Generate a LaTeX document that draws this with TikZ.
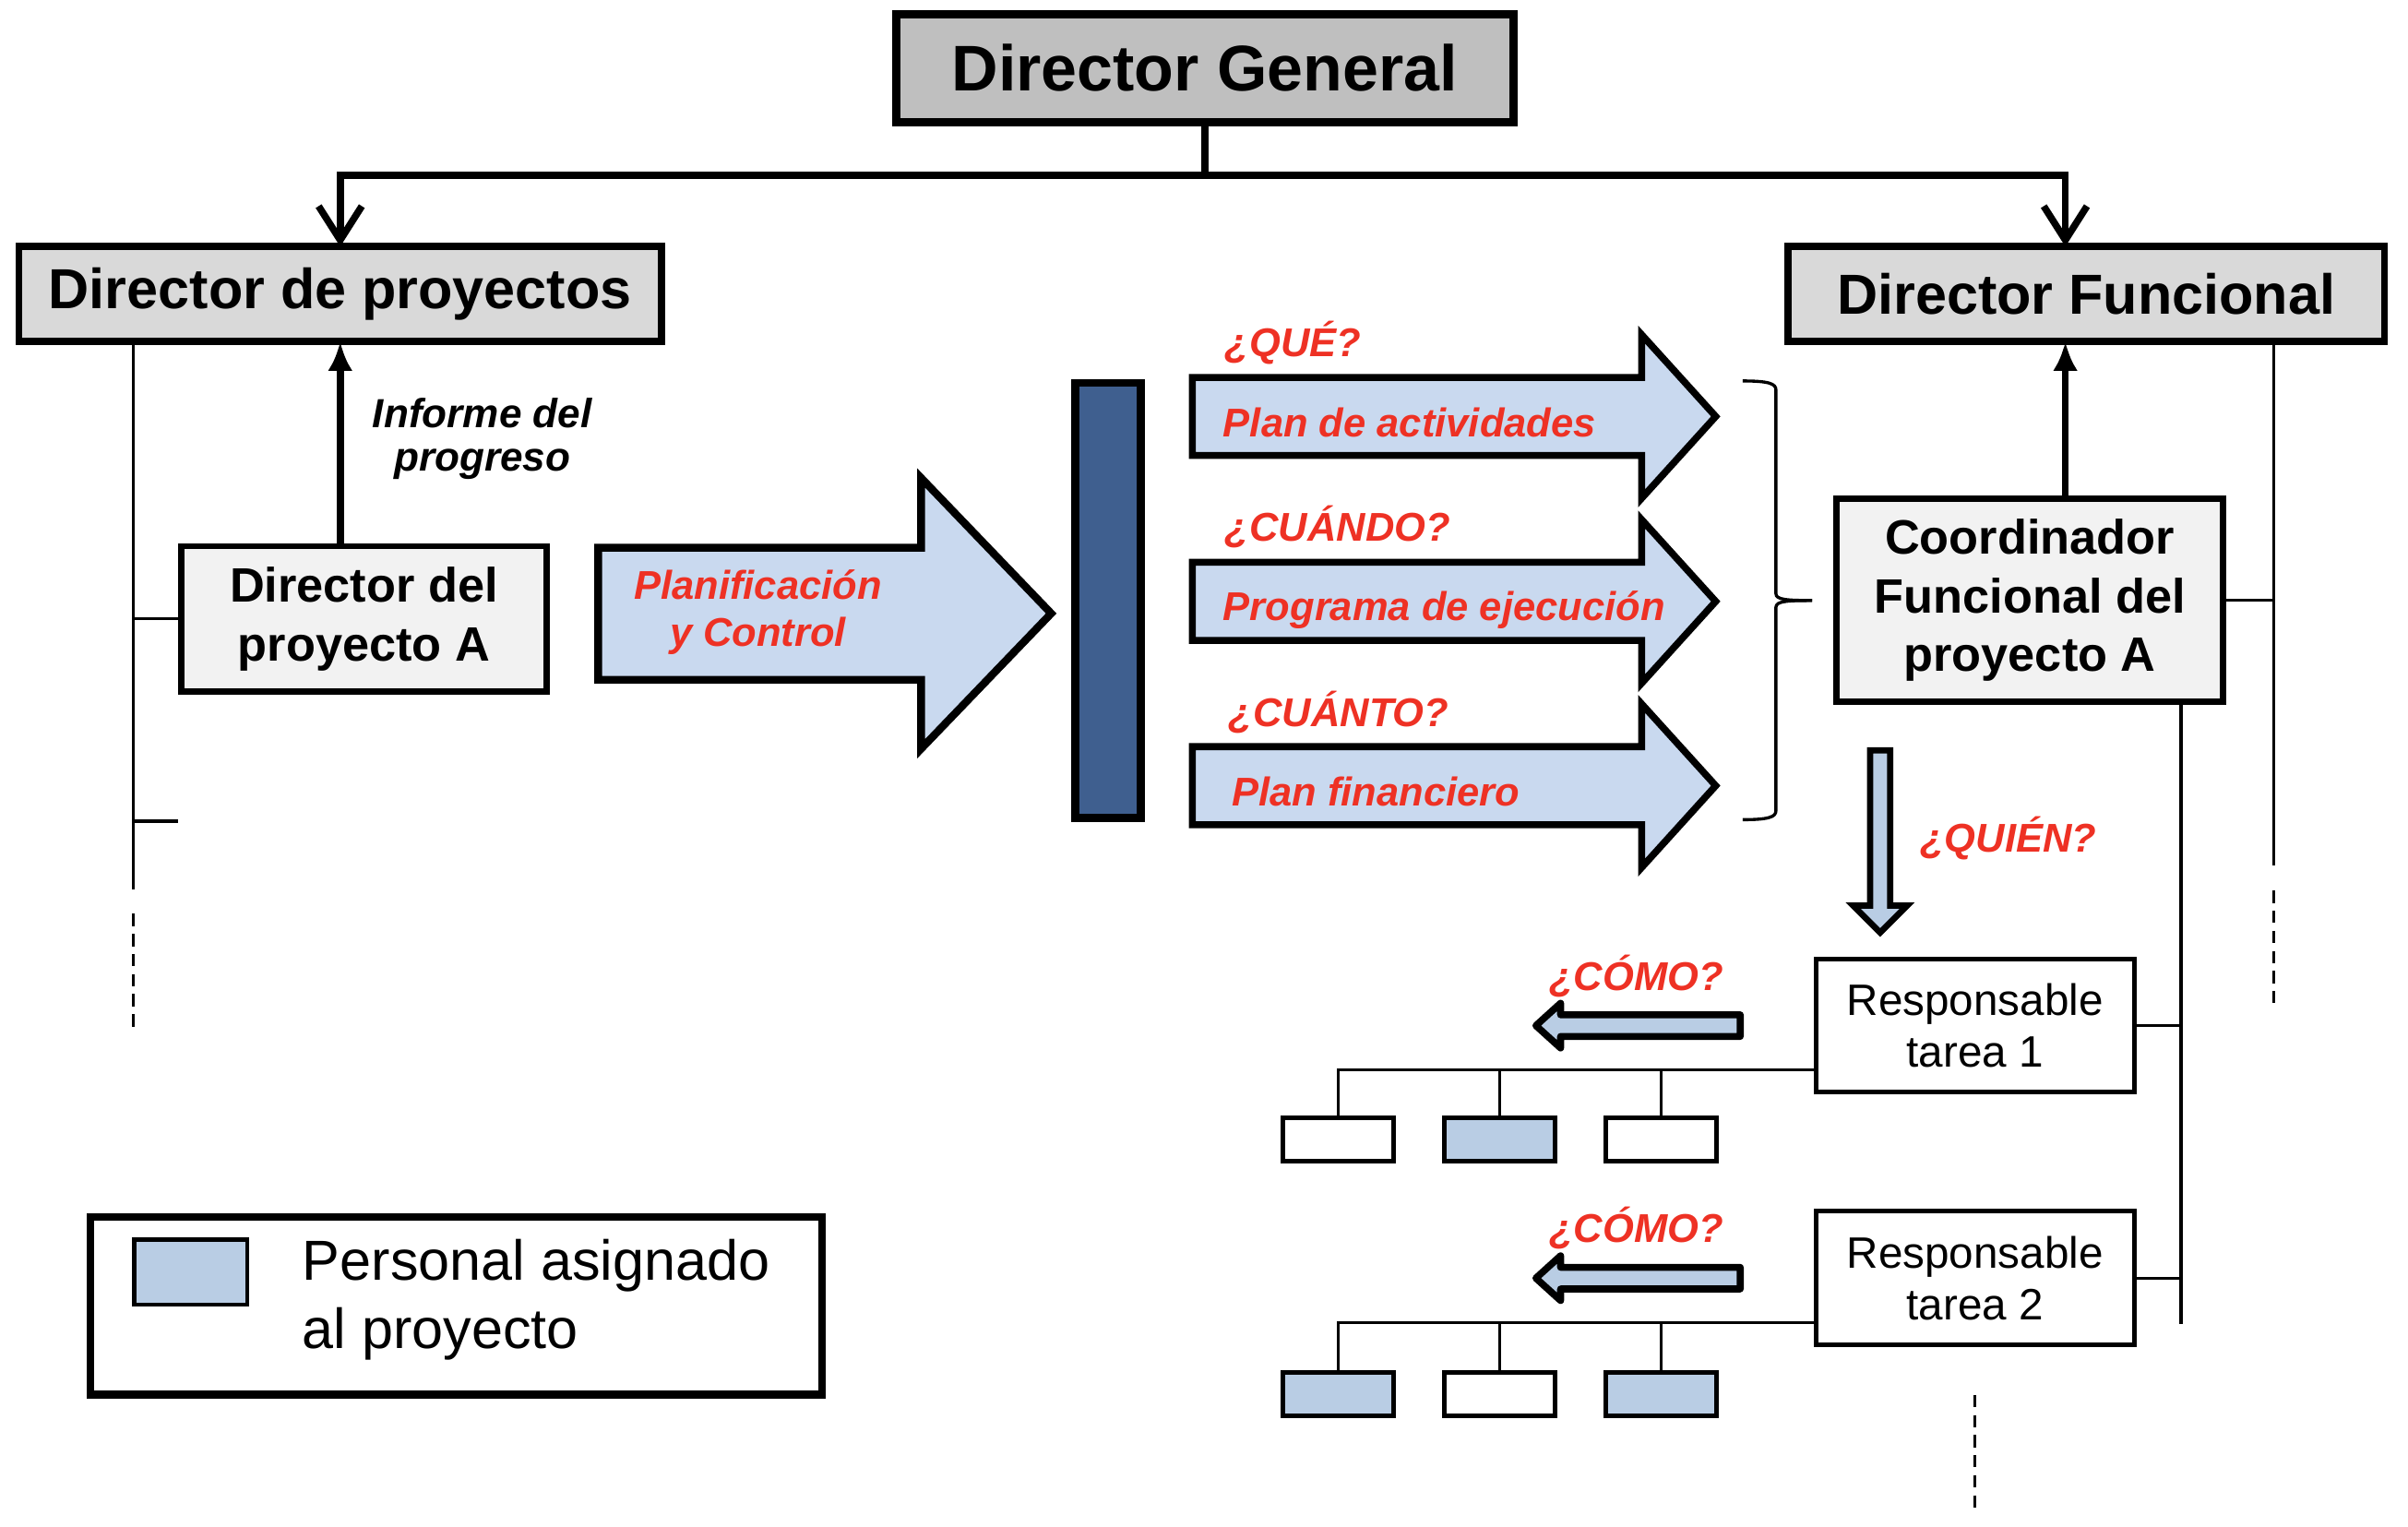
\documentclass[tikz,border=0pt]{standalone}
\usepackage{fontspec}
\setmainfont{Liberation Sans}
\usetikzlibrary{arrows.meta}

\definecolor{cbfbfbf}{RGB}{191,191,191}
\definecolor{cd9d9d9}{RGB}{217,217,217}
\definecolor{cf2f2f2}{RGB}{242,242,242}
\definecolor{cc9d9ef}{RGB}{201,217,239}
\definecolor{cb9cde4}{RGB}{185,205,228}
\definecolor{c3f5f8f}{RGB}{63,95,143}
\definecolor{cee3124}{RGB}{238,49,36}
\def \globalscale {1.000000}

\begin{document}
\begin{tikzpicture}[y=1mm, x=1mm, yscale=\globalscale,xscale=\globalscale, every node/.append style={scale=\globalscale}, inner sep=0pt, outer sep=0pt,
  headbox/.style={draw=black, line width=0.45mm, align=center, font=\bfseries\fontsize{10.4}{12.5}\selectfont},
  rolebox/.style={draw=black, fill=cf2f2f2, line width=0.4mm, align=center, font=\bfseries\fontsize{8.9}{10.8}\selectfont},
  taskbox/.style={draw=black, fill=white, line width=0.3mm, minimum width=20.6mm, minimum height=8.65mm, align=center, font=\fontsize{8.1}{9.6}\selectfont},
  staffbox/.style={draw=black, fill=white, line width=0.3mm, minimum width=7.2mm, minimum height=2.8mm},
  redlabel/.style={text=cee3124, font=\bfseries\itshape\fontsize{7.4}{8.6}\selectfont},
  conn/.style={draw=black, line width=0.45mm},
  thinline/.style={draw=black, line width=0.2mm},
  dashline/.style={draw=black, line width=0.2mm, dash pattern=on 0.8mm off 0.5mm}]
  \path[fill=white] (0.0, 0.0) rectangle (156.0, 98.86);
  \useasboundingbox (0.0, 0.0) rectangle (156.0, 98.86);

  % cabeceras
  \node[headbox, fill=cbfbfbf, line width=0.55mm, minimum width=40.0mm, minimum height=7.0mm, font=\bfseries\fontsize{11.9}{14}\selectfont] (dirgeneral) at (78.05, 94.45) {Director General};
  \node[headbox, fill=cd9d9d9, minimum width=41.65mm, minimum height=6.15mm] (dirproyectos) at (22.04, 79.81) {Director de proyectos};
  \node[headbox, fill=cd9d9d9, minimum width=38.65mm, minimum height=6.15mm] (dirfuncional) at (135.15, 79.81) {Director Funcional};

  \node[rolebox, minimum width=23.65mm, minimum height=9.4mm] (dirproyA) at (23.58, 58.77) {Director del\\proyecto A};
  \node[rolebox, minimum width=25.05mm, minimum height=13.15mm] (coordinador) at (131.5, 59.96) {Coordinador\\Funcional del\\proyecto A};

  \node[taskbox] (tarea1) at (127.95, 32.42) {Responsable\\tarea 1};
  \node[taskbox] (tarea2) at (127.95, 16.06) {Responsable\\tarea 2};

  \node[staffbox] (staff1a) at (86.7, 25.02) {};
  \node[staffbox, fill=cb9cde4] (staff1b) at (97.15, 25.02) {};
  \node[staffbox] (staff1c) at (107.6, 25.02) {};
  \node[staffbox, fill=cb9cde4] (staff2a) at (86.7, 8.57) {};
  \node[staffbox] (staff2b) at (97.15, 8.57) {};
  \node[staffbox, fill=cb9cde4] (staff2c) at (107.6, 8.57) {};

  % conexiones
  \draw[conn, -{Straight Barb[length=2.2mm,width=2.8mm]}] (dirgeneral.south) -- ++(0,-3.44) -| (dirproyectos.north);
  \draw[conn, -{Straight Barb[length=2.2mm,width=2.8mm]}] (dirgeneral.south) -- ++(0,-3.44) -| ([xshift=-1.35mm]dirfuncional.north);
  \draw[conn, -{Latex[length=1.9mm,width=1.6mm]}] (dirproyA.north -| dirproyectos.south) -- (dirproyectos.south);
  \draw[conn, -{Latex[length=1.9mm,width=1.6mm]}] ([xshift=2.3mm]coordinador.north) -- ([xshift=2.3mm]coordinador.north |- dirfuncional.south);

  \node[font=\bfseries\itshape\fontsize{7.5}{8}\selectfont, align=center] (informe) at (31.25, 70.41) {Informe del\\progreso};

  % lineas de la izquierda
  \coordinate (leftend) at (8.62, 41.26);
  \coordinate (lefttick) at (11.56, 45.66);
  \draw[thinline] (leftend |- dirproyectos.south) -- (leftend);
  \draw[thinline] (leftend |- dirproyA.west) -- (dirproyA.west);
  \draw[thinline] (leftend |- lefttick) -- (lefttick);
  \draw[dashline] (8.62, 39.66) -- (8.62, 32.36);

  % lineas de la derecha
  \coordinate (farright) at (147.3, 42.8);
  \coordinate (rline) at (141.3, 13.09);
  \draw[thinline] (farright |- dirfuncional.south) -- (farright);
  \draw[thinline] (coordinador.east) -- (coordinador.east -| farright);
  \draw[dashline] (147.3, 41.16) -- (147.3, 33.9);
  \draw[thinline] (rline |- coordinador.south) -- (rline);
  \draw[thinline] (tarea1.east) -- (tarea1.east -| rline);
  \draw[thinline] (tarea2.east) -- (tarea2.east -| rline);
  \draw[dashline] (127.95, 8.5) -- (127.95, 1.08);

  % arboles de tareas
  \draw[thinline] ([yshift=1.45mm]tarea1.south west) -| (staff1a.north);
  \draw[thinline] ([yshift=1.45mm]tarea1.south west) -| (staff1b.north);
  \draw[thinline] ([yshift=1.45mm]tarea1.south west) -| (staff1c.north);
  \draw[thinline] ([yshift=1.45mm]tarea2.south west) -| (staff2a.north);
  \draw[thinline] ([yshift=1.45mm]tarea2.south west) -| (staff2b.north);
  \draw[thinline] ([yshift=1.45mm]tarea2.south west) -| (staff2c.north);

  % flecha grande
  \path[draw=black,fill=cc9d9ef,line join=miter,line width=0.5mm,miter limit=10.0] (38.75, 63.38) -- (59.67, 63.38) -- (59.67, 67.9) -- (68.1, 59.12) -- (59.67, 50.35) -- (59.67, 54.82) -- (38.75, 54.82) -- cycle;
  \node[redlabel, align=center] (planificacion) at (49.1, 59.2) {Planificación\\y Control};

  % barra
  \path[draw=black,fill=c3f5f8f,line width=0.5mm] (69.65, 74.06) rectangle (73.91, 45.87);

  % tres flechas
  \path[draw=black,fill=cc9d9ef,line join=miter,line width=0.45mm,miter limit=10.0] (77.25, 74.41) -- (106.35, 74.41) -- (106.35, 77.18) -- (111.15, 71.88) -- (106.35, 66.58) -- (106.35, 69.35) -- (77.25, 69.35) -- cycle;
  \path[draw=black,fill=cc9d9ef,line join=miter,line width=0.45mm,miter limit=10.0] (77.25, 62.43) -- (106.35, 62.43) -- (106.35, 65.2) -- (111.15, 59.9) -- (106.35, 54.6) -- (106.35, 57.37) -- (77.25, 57.37) -- cycle;
  \path[draw=black,fill=cc9d9ef,line join=miter,line width=0.45mm,miter limit=10.0] (77.25, 50.49) -- (106.35, 50.49) -- (106.35, 53.26) -- (111.15, 47.96) -- (106.35, 42.66) -- (106.35, 45.43) -- (77.25, 45.43) -- cycle;

  \node[redlabel, anchor=west] (que) at (79.36, 76.66) {¿QUÉ?};
  \node[redlabel, anchor=west] (cuando) at (79.36, 64.72) {¿CUÁNDO?};
  \node[redlabel, anchor=west] (cuanto) at (79.6, 52.72) {¿CUÁNTO?};
  \node[redlabel, anchor=west] (actividades) at (79.25, 71.49) {Plan de actividades};
  \node[redlabel, anchor=west] (ejecucion) at (79.25, 59.36) {Programa de ejecución};
  \node[redlabel, anchor=west] (financiero) at (79.8, 47.56) {Plan financiero};

  % llave
  \path[draw=black,line width=0.2mm] (112.9, 74.18) .. controls (114.6, 74.18) and (115.05, 74.0) .. (115.05, 73.6) -- (115.05, 60.4) .. controls (115.05, 60.0) and (115.8, 59.96) .. (117.4, 59.96);
  \path[draw=black,line width=0.2mm] (117.4, 59.96) .. controls (115.8, 59.96) and (115.05, 59.92) .. (115.05, 59.52) -- (115.05, 46.34) .. controls (115.05, 45.94) and (114.6, 45.76) .. (112.9, 45.76);

  % quien y como
  \path[draw=black,fill=cb9cde4,line join=miter,line width=0.4mm,miter limit=10.0] (121.15, 50.25) -- (122.45, 50.25) -- (122.45, 40.2) -- (123.55, 40.2) -- (121.8, 38.45) -- (120.05, 40.2) -- (121.15, 40.2) -- cycle;
  \node[redlabel] (quien) at (130.1, 44.56) {¿QUIÉN?};

  \path[draw=black,fill=cb9cde4,line join=round,line width=0.45mm] (112.74, 33.12) -- (101.1, 33.12) -- (101.1, 33.87) -- (99.5, 32.42) -- (101.1, 30.97) -- (101.1, 31.72) -- (112.74, 31.72) -- cycle;
  \path[draw=black,fill=cb9cde4,line join=round,line width=0.45mm] (112.74, 16.76) -- (101.1, 16.76) -- (101.1, 17.51) -- (99.5, 16.06) -- (101.1, 14.61) -- (101.1, 15.36) -- (112.74, 15.36) -- cycle;
  \node[redlabel] (como1) at (106.0, 35.61) {¿CÓMO?};
  \node[redlabel] (como2) at (106.0, 19.29) {¿CÓMO?};

  % leyenda
  \node[draw=black, line width=0.5mm, minimum width=47.4mm, minimum height=11.5mm] (leyenda) at (29.55, 14.26) {};
  \node[draw=black, fill=cb9cde4, line width=0.25mm, minimum width=7.3mm, minimum height=4.2mm] (muestra) at (12.35, 16.46) {};
  \node[anchor=west, align=left, font=\fontsize{10.4}{12.5}\selectfont] (leyendatexto) at (19.6, 14.66) {Personal asignado\\al proyecto};
\end{tikzpicture}
\end{document}
